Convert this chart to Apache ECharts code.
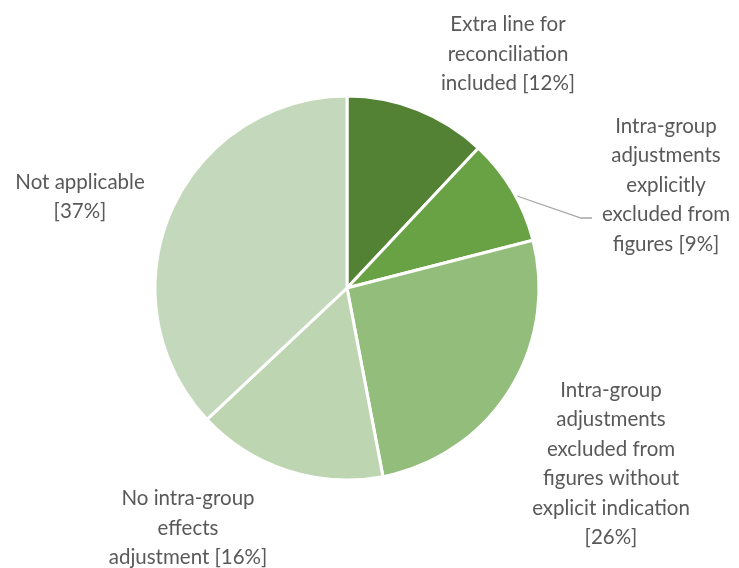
<!DOCTYPE html>
<html>
<head>
<meta charset="utf-8">
<script src="https://cdn.jsdelivr.net/npm/echarts@6/dist/echarts.min.js"></script>
<style>
  html, body { margin: 0; padding: 0; background: #fff; }
  #chart { width: 739px; height: 568px; }
</style>
</head>
<body>
<div id="chart"></div>
<script>
// Slice names (line breaks as shown) and their shares in percent
const categories = [
  'Extra line for\nreconciliation\nincluded',
  'Intra-group\nadjustments\nexplicitly\nexcluded from\nfigures',
  'Intra-group\nadjustments\nexcluded from\nfigures without\nexplicit indication',
  'No intra-group\neffects\nadjustment',
  'Not applicable'
];
const values = [12, 9, 26, 16, 37];
// whether the "[x%]" tag sits on its own line
const pctOnNewLine = [false, false, true, false, true];
const colors = ['#548235', '#68a244', '#93bd7b', '#bdd6b1', '#c4d9bb'];

// label block centres and the one leader line
const labelPos = [
  { x: 508, y: 54 },
  { x: 666, y: 185 },
  { x: 611, y: 464 },
  { x: 188, y: 528 },
  { x: 80, y: 197 }
];

const chart = echarts.init(document.getElementById('chart'), null, { renderer: 'canvas' });

chart.setOption({
  animation: false,
  series: [{
    type: 'pie',
    center: [347, 288],
    radius: [0, 192],
    startAngle: 90,
    clockwise: true,
    avoidLabelOverlap: false,
    itemStyle: { borderColor: '#ffffff', borderWidth: 3 },
    label: {
      show: true,
      position: 'outside',
      color: '#595959',
      fontFamily: 'Lato',
      fontSize: 20.5,
      lineHeight: 29.5,
      align: 'center',
      overflow: 'none',
      bleedMargin: 0,
      formatter: function (p) {
        const i = p.dataIndex;
        return categories[i] + (pctOnNewLine[i] ? '\n' : ' ') + '[' + values[i] + '%]';
      }
    },
    labelLine: { show: false },
    labelLayout: function (params) {
      const i = params.dataIndex;
      const out = {
        x: labelPos[i].x,
        y: labelPos[i].y,
        align: 'center',
        verticalAlign: 'middle',
        hideOverlap: false
      };
      if (i === 1) {
        out.labelLinePoints = [[517, 196], [581, 218], [592, 218]];
      }
      return out;
    },
    data: values.map(function (v, i) {
      const d = {
        name: categories[i],
        value: v,
        itemStyle: { color: colors[i] }
      };
      if (i === 1) {
        d.labelLine = { show: true, lineStyle: { color: '#a6a6a6', width: 1.3 } };
      }
      return d;
    })
  }]
});
</script>
</body>
</html>
